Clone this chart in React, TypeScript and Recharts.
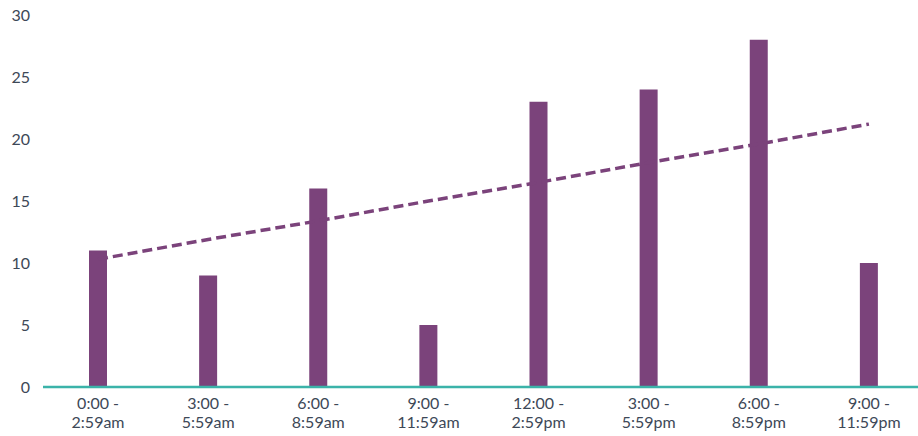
import React from 'react';
import { ComposedChart, Bar, Line, XAxis, YAxis } from 'recharts';

const categories = [
  '0:00 -|2:59am',
  '3:00 -|5:59am',
  '6:00 -|8:59am',
  '9:00 -|11:59am',
  '12:00 -|2:59pm',
  '3:00 -|5:59pm',
  '6:00 -|8:59pm',
  '9:00 -|11:59pm'
];
const counts = [11, 9, 16, 5, 23, 24, 28, 10];
// dashed trend line
const trend = [10.3, 11.9, 13.4, 15.0, 16.5, 18.1, 19.6, 21.2];
const yTicks = [0, 5, 10, 15, 20, 25, 30];

const PURPLE = '#7b437b';
const TEAL = '#3bb3a9';
const TEXT = '#3d4857';

const data = categories.map((c, i) => ({ name: c, count: counts[i], trend: trend[i] }));

const TwoLineTick = ({ x, y, payload }: any) => {
  const [a, b] = String(payload.value).split('|');
  return (
    <text x={x} y={y} textAnchor="middle" fill={TEXT} fontSize={16} fontFamily="Lato, sans-serif">
      <tspan x={x} dy={14}>{a}</tspan>
      <tspan x={x} dy={18.5}>{b}</tspan>
    </text>
  );
};

export default function App() {
  return (
    <div style={{ width: 918, height: 436, overflow: 'hidden' }}>
      <style>{'body { margin: 0; }'}</style>
      <ComposedChart
        width={924}
        height={436}
        data={data}
        margin={{ top: 15, right: 0, left: 0, bottom: 0 }}
      >
        <XAxis
          dataKey="name"
          tick={<TwoLineTick />}
          tickLine={false}
          axisLine={{ stroke: TEAL, strokeWidth: 2.5 }}
          height={49}
          interval={0}
        />
        <YAxis
          domain={[0, 30]}
          ticks={yTicks}
          width={43}
          axisLine={false}
          tickLine={false}
          tickMargin={7}
          tick={{ fill: TEXT, fontSize: 16, fontFamily: 'Lato, sans-serif' }}
        />
        <Bar dataKey="count" fill={PURPLE} barSize={18} isAnimationActive={false} />
        <Line
          dataKey="trend"
          stroke={PURPLE}
          strokeWidth={3.5}
          strokeDasharray="10 5"
          dot={false}
          activeDot={false}
          isAnimationActive={false}
        />
      </ComposedChart>
    </div>
  );
}
